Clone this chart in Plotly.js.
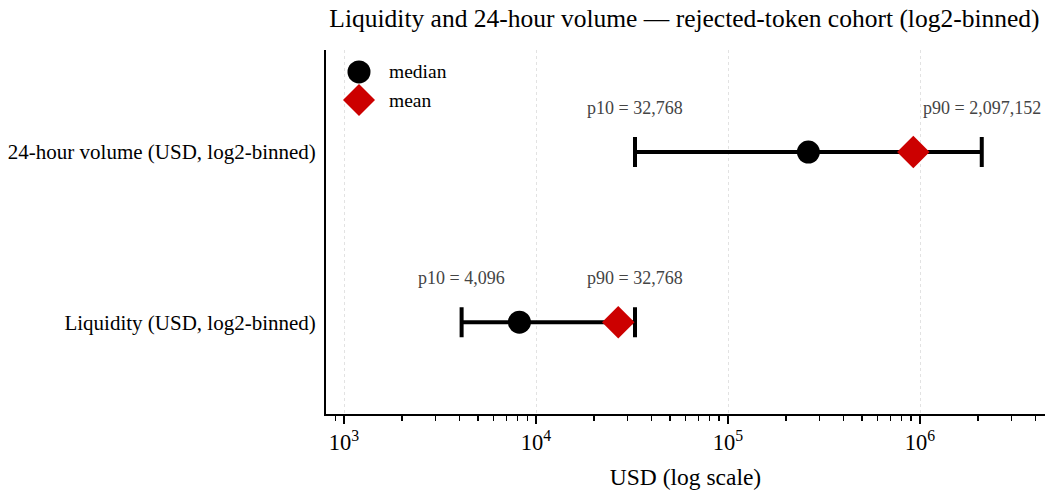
<!DOCTYPE html>
<html><head><meta charset="utf-8">
<script src="https://cdn.plot.ly/plotly-3.0.1.min.js"></script>
<style>html,body{margin:0;padding:0;background:#fff}</style>
</head><body>
<div id="chart" style="width:1045px;height:495px"></div>
<script>
const categories = ["Liquidity (USD, log2-binned)", "24-hour volume (USD, log2-binned)"];
const p10 = [4096, 32768];
const p90 = [32768, 2097152];
const medianVals = [8192, 262144];
const meanVals = [26800, 923000];

const yPos = categories.map((c, i) => i);
const fmt = v => v.toLocaleString('en-US');
const FONT = 'Liberation Serif, Times New Roman, serif';

const traces = [
  {
    type: 'scatter', mode: 'markers', x: medianVals, y: yPos, name: 'median', showlegend: false,
    marker: {symbol: 'circle', size: 23, color: '#000'},
    error_x: {type: 'data', symmetric: false,
      array: medianVals.map((m, i) => p90[i] - m),
      arrayminus: medianVals.map((m, i) => m - p10[i]),
      color: '#000', thickness: 4, width: 15},
    hoverinfo: 'x+name'
  },
  {
    type: 'scatter', mode: 'markers', x: meanVals, y: yPos, name: 'mean', showlegend: false,
    marker: {symbol: 'diamond', size: 25, color: '#cc0000'},
    hoverinfo: 'x+name'
  }
];

const annotations = [];
categories.forEach((c, i) => {
  annotations.push({x: Math.log10(p10[i]), y: yPos[i], xref: 'x', yref: 'y', text: 'p10 = ' + fmt(p10[i]),
    showarrow: false, yshift: 44, font: {family: FONT, size: 18, color: '#444'}});
  annotations.push({x: Math.log10(p90[i]), y: yPos[i], xref: 'x', yref: 'y', text: 'p90 = ' + fmt(p90[i]),
    showarrow: false, yshift: 44, font: {family: FONT, size: 18, color: '#444'}});
});
// custom legend
const legendItems = [{name: 'median', py: 0.9396}, {name: 'mean', py: 0.8626}];
legendItems.forEach(it => {
  annotations.push({x: 0.0848, y: it.py, xref: 'paper', yref: 'paper', xanchor: 'left', yanchor: 'middle',
    text: it.name, showarrow: false, font: {family: FONT, size: 19.5, color: '#000'}});
});
const shapes = [
  {type: 'circle', xref: 'paper', yref: 'paper', xsizemode: 'pixel', ysizemode: 'pixel',
   xanchor: 0.0459, yanchor: 0.9396, x0: -11.5, x1: 11.5, y0: -11.5, y1: 11.5,
   fillcolor: '#000', line: {width: 0}},
  {type: 'path', xref: 'paper', yref: 'paper', xsizemode: 'pixel', ysizemode: 'pixel',
   xanchor: 0.0459, yanchor: 0.8626, path: 'M -16 0 L 0 16 L 16 0 L 0 -16 Z',
   fillcolor: '#cc0000', line: {width: 0}}
];

const layout = {
  width: 1045, height: 495,
  margin: {l: 326, r: 0, t: 50, b: 81},
  paper_bgcolor: '#fff', plot_bgcolor: '#fff',
  font: {family: FONT, color: '#000'},
  title: {text: 'Liquidity and 24-hour volume — rejected-token cohort (log2-binned)',
    font: {family: FONT, size: 25.5, color: '#000'}, x: 0.655, xanchor: 'center', y: 0.963, yanchor: 'middle'},
  showlegend: false,
  xaxis: {
    type: 'log', range: [2.906, 6.651], exponentformat: 'power', dtick: 1,
    showline: true, linecolor: '#000', linewidth: 2, mirror: false,
    ticks: 'outside', ticklen: 8, tickwidth: 2, tickcolor: '#000',
    tickfont: {family: FONT, size: 18, color: '#000'},
    showgrid: true, gridcolor: '#e2e2e2', griddash: 'dot', gridwidth: 1,
    minor: {ticks: 'outside', ticklen: 5, tickwidth: 1.5, tickcolor: '#000', showgrid: false},
    zeroline: false,
    title: {text: 'USD (log scale)', font: {family: FONT, size: 23.5, color: '#000'}, standoff: 14}
  },
  yaxis: {
    range: [-0.54, 1.6], tickvals: yPos, ticktext: categories,
    showline: true, linecolor: '#000', linewidth: 2,
    ticks: '', showgrid: false, zeroline: false,
    tickfont: {family: FONT, size: 21, color: '#000'}, ticklabelstandoff: 4
  },
  annotations: annotations,
  shapes: shapes
};

Plotly.newPlot('chart', traces, layout, {displayModeBar: false, staticPlot: true});
</script>
</body></html>
